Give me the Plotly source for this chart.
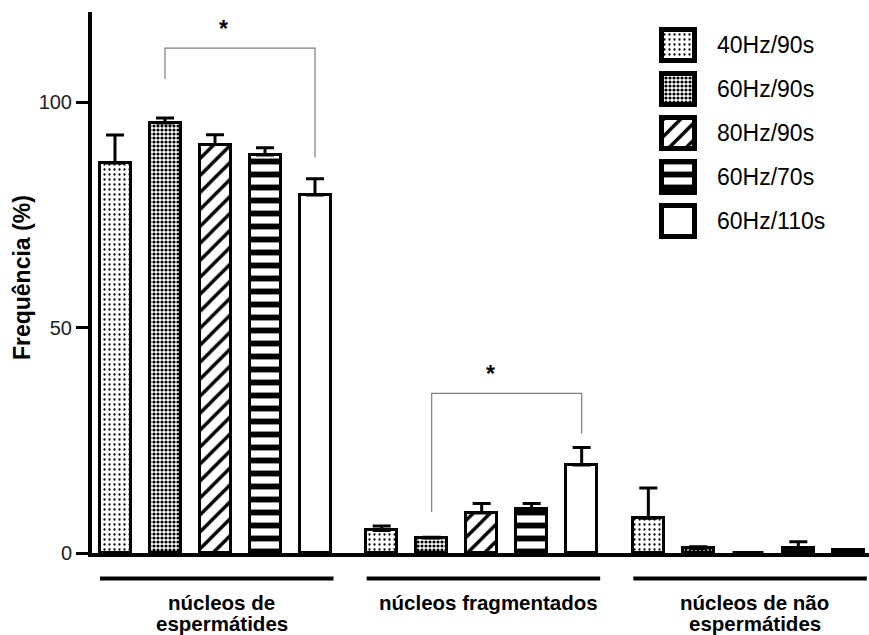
import plotly.graph_objects as go

# ---- data -------------------------------------------------------------
groups = ["núcleos de espermátides", "núcleos fragmentados", "núcleos de não espermátides"]
group_label_lines = [["núcleos de", "espermátides"], ["núcleos fragmentados"], ["núcleos de não", "espermátides"]]
series = ["40Hz/90s", "60Hz/90s", "80Hz/90s", "60Hz/70s", "60Hz/110s"]

mean_40_90 = [86.5, 5.0, 7.7]
mean_60_90 = [95.4, 3.3, 1.0]
mean_80_90 = [90.6, 8.9, 0.0]
mean_60_70 = [88.3, 9.7, 1.2]
mean_60_110 = [79.4, 19.5, 0.7]

err_40_90 = [6.2, 1.0, 6.7]
err_60_90 = [1.1, 0.2, 0.4]
err_80_90 = [2.2, 2.1, 0.0]
err_60_70 = [1.6, 1.3, 1.3]
err_60_110 = [3.6, 3.9, 0.1]

means = [mean_40_90, mean_60_90, mean_80_90, mean_60_70, mean_60_110]
errors = [err_40_90, err_60_90, err_80_90, err_60_70, err_60_110]

# significance brackets: (group, first series, last series, left leg end, right leg end, top)
brackets = [(0, 1, 4, 105.2, 87.7, 112.0), (1, 1, 4, 9.1, 26.5, 35.4)]
y_ticks = [0, 50, 100]

# ---- styling ----------------------------------------------------------
FONT = "Liberation Sans, Arial, sans-serif"
patterns = [
    dict(shape=".", size=5, solidity=0.16, fgcolor="black", bgcolor="white", fgopacity=1),
    dict(shape=".", size=4, solidity=0.5, fgcolor="black", bgcolor="white", fgopacity=1),
    dict(shape="/", size=12, solidity=0.28, fgcolor="black", bgcolor="white", fgopacity=1),
    dict(shape="-", size=13, solidity=0.45, fgcolor="black", bgcolor="white", fgopacity=1),
    dict(shape="", fgcolor="black", bgcolor="white", fgopacity=1),
]
GROUP_STEP = 16 / 3     # slot distance between the first bars of two groups
BAR_W = 0.62

fig = go.Figure()

for s, name in enumerate(series):
    xs = [g * GROUP_STEP + s for g in range(len(groups))]
    fig.add_trace(go.Bar(
        x=xs, y=means[s], name=name, width=BAR_W, opacity=1,
        marker=dict(color="white", opacity=1, line=dict(color="black", width=3),
                    pattern=patterns[s]),
        error_y=dict(type="data", symmetric=False, array=errors[s],
                     arrayminus=[0] * len(groups), color="black", thickness=3, width=9),
        showlegend=False,
    ))

# ---- legend drawn as boxes on a pixel-scaled overlay axis ---------------
LEG_X, LEG_TOP, LEG_STEP, LEG_BOX = 678, 45, 44, 31
for s, name in enumerate(series):
    cy = LEG_TOP + s * LEG_STEP
    fig.add_trace(go.Bar(
        x=[LEG_X], y=[LEG_BOX], base=[cy - LEG_BOX / 2], width=33, opacity=1,
        marker=dict(color="white", opacity=1, line=dict(color="black", width=5),
                    pattern=patterns[s]),
        xaxis="x2", yaxis="y2", showlegend=False, hoverinfo="skip",
    ))
    fig.add_annotation(x=715, y=cy, xref="x2", yref="y2", text=name, showarrow=False,
                       xanchor="left", yanchor="middle",
                       font=dict(family=FONT, size=23, color="black"))

# ---- significance brackets ---------------------------------------------
for g, a, b, yl, yr, top in brackets:
    xa = g * GROUP_STEP + a
    xb = g * GROUP_STEP + b
    fig.add_shape(type="path", xref="x", yref="y",
                  path=f"M {xa},{yl} L {xa},{top} L {xb},{top} L {xb},{yr}",
                  line=dict(color="#7f7f7f", width=1.2))
    fig.add_annotation(x=g * GROUP_STEP + 2.17, y=top + 4.3, xref="x", yref="y",
                       text="<b>*</b>", showarrow=False, yanchor="middle",
                       font=dict(family=FONT, size=23, color="black"))

# ---- group underlines and labels -----------------------------------------
for g, lines in enumerate(group_label_lines):
    x0 = g * GROUP_STEP - 0.3
    x1 = g * GROUP_STEP + 4.37
    fig.add_shape(type="line", xref="x", yref="paper", x0=x0, x1=x1,
                  y0=-0.047, y1=-0.047, line=dict(color="black", width=4))
    for k, line in enumerate(lines):
        fig.add_annotation(x=g * GROUP_STEP + 2.13, y=-0.091 - k * 0.040,
                           xref="x", yref="paper", text=f"<b>{line}</b>",
                           showarrow=False, yanchor="middle",
                           font=dict(family=FONT, size=20.5, color="black"))

# y-axis title
fig.add_annotation(x=-0.09, y=(553 - 278) / 541, xref="paper", yref="paper",
                   xanchor="center", yanchor="middle",
                   text="<b>Frequência (%)</b>", textangle=-90, showarrow=False,
                   font=dict(family=FONT, size=23, color="black"))

fig.update_layout(
    width=869, height=635,
    margin=dict(l=92, r=0, t=12, b=82),
    paper_bgcolor="white", plot_bgcolor="rgba(0,0,0,0)",
    barmode="overlay", bargap=0,
    font=dict(family=FONT, color="black"),
    xaxis=dict(range=[-0.46, 15.08], showline=True, linewidth=4, linecolor="black",
               showticklabels=False, ticks="", showgrid=False, zeroline=False, fixedrange=True),
    yaxis=dict(range=[0, 120], tickvals=y_ticks, ticks="outside", ticklen=12, tickwidth=3,
               tickcolor="black", showline=True, linewidth=4, linecolor="black",
               showgrid=False, zeroline=False, tickfont=dict(family=FONT, size=20, color="#222")),
    xaxis2=dict(domain=[0, 1], range=[92, 869], visible=False, anchor="y2"),
    yaxis2=dict(domain=[0, 1], range=[553, 12], visible=False, anchor="x2"),
)

fig.write_html("out.html")
